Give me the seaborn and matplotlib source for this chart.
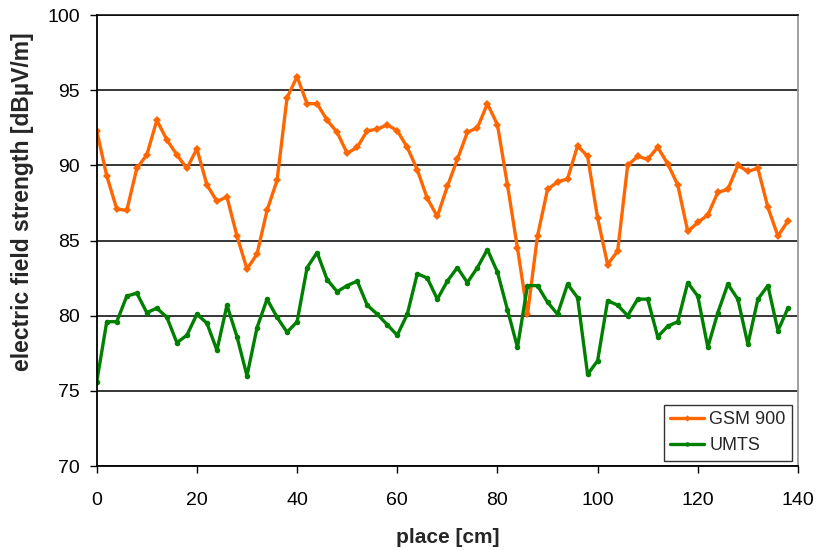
import numpy as np
import pandas as pd
import seaborn as sns
import matplotlib
matplotlib.use("Agg")
import matplotlib.pyplot as plt

place = list(range(0, 140, 2))
gsm900 = [92.3, 89.3, 87.1, 87.0, 89.8, 90.7, 93.0, 91.7, 90.7, 89.8,
          91.1, 88.7, 87.6, 87.9, 85.3, 83.1, 84.1, 87.0, 89.0, 94.5,
          95.9, 94.1, 94.1, 93.0, 92.2, 90.8, 91.2, 92.3, 92.4, 92.7,
          92.3, 91.2, 89.7, 87.8, 86.6, 88.6, 90.4, 92.2, 92.5, 94.1,
          92.7, 88.7, 84.5, 80.1, 85.3, 88.4, 88.9, 89.1, 91.3, 90.6,
          86.5, 83.4, 84.3, 90.0, 90.6, 90.4, 91.2, 90.1, 88.7, 85.6,
          86.2, 86.7, 88.2, 88.4, 90.0, 89.6, 89.8, 87.2, 85.3, 86.3]
umts = [75.6, 79.6, 79.6, 81.3, 81.5, 80.2, 80.5, 79.9, 78.2, 78.7,
        80.1, 79.5, 77.7, 80.7, 78.6, 76.0, 79.2, 81.1, 79.9, 78.9,
        79.6, 83.2, 84.2, 82.4, 81.6, 82.0, 82.3, 80.7, 80.1, 79.4,
        78.7, 80.1, 82.8, 82.5, 81.1, 82.3, 83.2, 82.2, 83.2, 84.4,
        82.9, 80.4, 77.9, 82.0, 82.0, 80.9, 80.1, 82.1, 81.2, 76.1,
        77.0, 81.0, 80.7, 80.0, 81.1, 81.1, 78.6, 79.3, 79.6, 82.2,
        81.3, 77.9, 80.2, 82.1, 81.1, 78.1, 81.1, 82.0, 79.0, 80.5]
series_names = ["GSM 900", "UMTS"]
y_ticks = [70, 75, 80, 85, 90, 95, 100]
x_ticks = [0, 20, 40, 60, 80, 100, 120, 140]

df = pd.DataFrame({
    "place": place * 2,
    "value": gsm900 + umts,
    "series": [series_names[0]] * len(place) + [series_names[1]] * len(place),
})

sns.set_theme(style="white")
plt.rcParams["font.family"] = ["Liberation Sans", "DejaVu Sans"]

fig = plt.figure(figsize=(8.17, 5.50), dpi=100)
ax = fig.add_axes([0.1184, 0.1527, 0.8583, 0.8200])

palette = {"GSM 900": "#ff6600", "UMTS": "#008000"}
sns.lineplot(data=df, x="place", y="value", hue="series", style="series",
             markers={"GSM 900": "D", "UMTS": "o"}, dashes=False,
             palette=palette, linewidth=2.4, markersize=4, markeredgewidth=0,
             ax=ax)

ax.set_xlim(0, 140)
ax.set_ylim(70, 100)
ax.set_xticks(x_ticks)
ax.set_yticks(y_ticks)
ax.yaxis.grid(True, color="black", linewidth=1.1)
ax.xaxis.grid(False)
ax.set_axisbelow(True)

for s in ["left", "bottom"]:
    ax.spines[s].set_color("black")
    ax.spines[s].set_linewidth(1.3)
ax.spines["top"].set_color("black")
ax.spines["top"].set_linewidth(1.1)
ax.spines["right"].set_color("#999999")
ax.spines["right"].set_linewidth(1.3)

ax.tick_params(axis="both", which="major", direction="out", length=5,
               width=1.0, color="black", labelsize=14, labelcolor="black",
               left=True, bottom=True)
ax.tick_params(axis="y", pad=7)
ax.tick_params(axis="x", pad=14)

ax.set_xlabel("place [cm]", fontsize=15, fontweight="bold")
ax.set_ylabel("electric field strength [dBµV/m]", fontsize=16.5,
              fontweight="bold")
ax.xaxis.set_label_coords(0.5, -0.137)
ax.yaxis.set_label_coords(-0.09, 0.585)

leg = ax.legend(loc="lower right", bbox_to_anchor=(0.9914, 0.0118),
                borderaxespad=0, fontsize=13, frameon=True, fancybox=False,
                edgecolor="black", borderpad=0.35, handlelength=1.85,
                labelspacing=0.5, handletextpad=0.3, markerscale=0.8)
leg.get_frame().set_linewidth(1.0)
for line in leg.get_lines():
    line.set_linewidth(2.4)

fig.savefig("out.png", dpi=100)
